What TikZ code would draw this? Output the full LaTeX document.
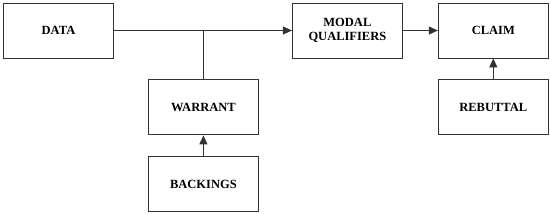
\documentclass[tikz,border=0pt]{standalone}
\usepackage{fontspec}
\setmainfont{Liberation Serif}
\usetikzlibrary{arrows.meta, positioning, calc}

\begin{document}
\begin{tikzpicture}[
  x=1pt, y=1pt,
  node distance=21pt and 35pt,
  every node/.style={draw=black!80, line width=0.9pt, font=\fontsize{12.5}{14.5}\selectfont\bfseries,
                     minimum width=110pt, minimum height=55pt, align=center, inner sep=2pt},
  arr/.style={-{Triangle[length=9pt, width=8pt]}, line width=0.9pt, draw=black!80}
]
  \useasboundingbox (0,0) rectangle (550,-214);

  \node (data) at (58.5,-30.5) {DATA};
  \node[right=178pt of data] (modal) {MODAL\\QUALIFIERS};
  \node[right=35pt of modal] (claim) {CLAIM};
  \node[below=of claim] (rebuttal) {REBUTTAL};
  \node[below right=21pt and 34pt of data] (warrant) {WARRANT};
  \node[below=of warrant] (backings) {BACKINGS};

  \coordinate (join) at (warrant.north |- data.east);

  \draw[arr] (data) -- (modal);
  \draw[line width=0.9pt, draw=black!80] (warrant) -- (join);
  \draw[arr] (modal) -- (claim);
  \draw[arr] (rebuttal) -- (claim);
  \draw[arr] (backings) -- (warrant);
\end{tikzpicture}
\end{document}
